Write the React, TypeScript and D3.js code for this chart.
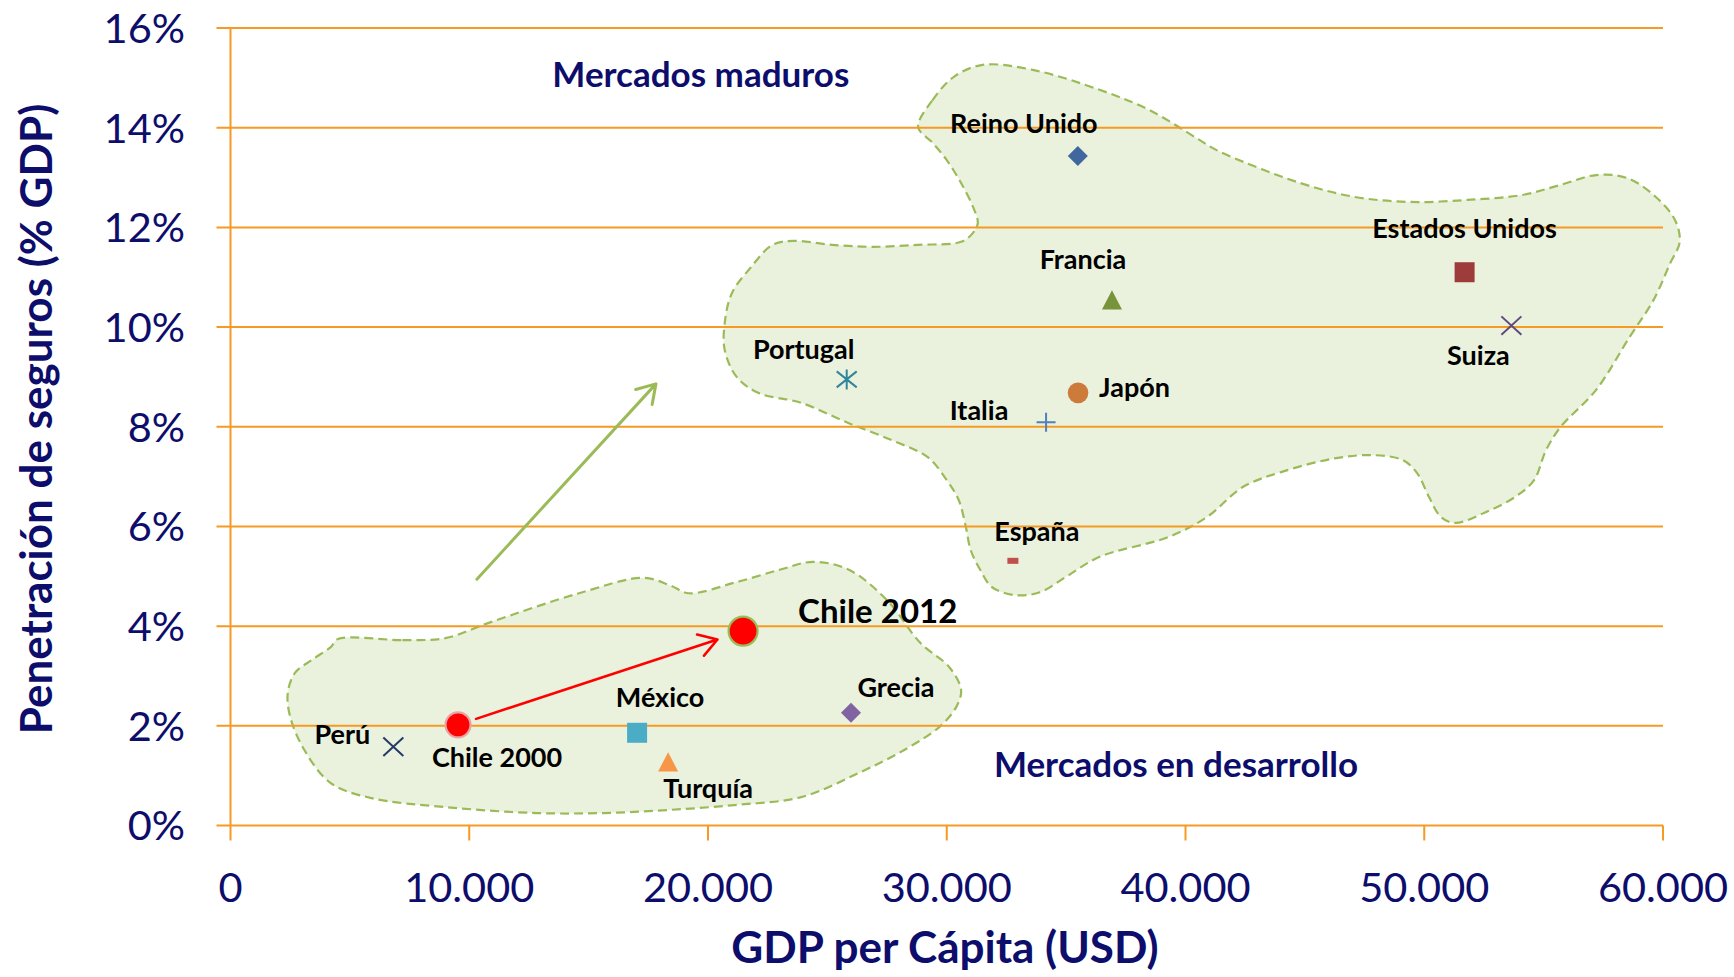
import React from 'react';
import * as d3 from 'd3';

// ---------- data ----------
const countries = ['Reino Unido', 'Estados Unidos', 'Francia', 'Suiza', 'Portugal', 'Japón', 'Italia', 'España', 'Chile 2012', 'Grecia', 'México', 'Chile 2000', 'Turquía', 'Perú'];
const gdpPerCapita = [35490, 51690, 36920, 53650, 25810, 35500, 34160, 32770, 21470, 25990, 17030, 9530, 18330, 6820];
const penetration = [13.43, 11.1, 10.54, 10.03, 8.95, 8.68, 8.09, 5.31, 3.9, 2.26, 1.86, 2.02, 1.27, 1.58];

const xTicks = [0, 10000, 20000, 30000, 40000, 50000, 60000];
const yTicks = [0, 2, 4, 6, 8, 10, 12, 14, 16];

const xTitle = 'GDP per Cápita (USD)';
const yTitle = 'Penetración de seguros (% GDP)';
const regionLabels = ['Mercados maduros', 'Mercados en desarrollo'];
const regionLabelGdp = [19700, 39600];
const regionLabelPct = [14.82, 0.98];

// outline of the "mature markets" cloud (GDP, %)
const matureGdp = [28800, 29400, 30300, 31500, 33600, 36400, 38500, 40600, 41300, 44800, 47100, 49400, 51800, 54100, 55700, 57200, 58500, 59700, 60500, 60700, 60300, 59600, 58600, 57200, 55700, 55100, 54600, 53800, 52500, 51300, 50700, 50200, 49700, 49100, 47900, 46300, 44000, 42400, 40900, 39300, 36400, 35000, 33900, 32900, 31900, 31400, 31000, 30800, 30500, 30000, 29200, 27700, 25900, 23900, 22100, 21200, 20700, 20700, 21000, 21800, 22700, 23600, 25200, 26900, 28800, 30600, 31100, 31300, 31100, 30600, 30000, 29400];
const maturePct = [14.01, 14.55, 15.02, 15.26, 15.16, 14.76, 14.35, 13.75, 13.55, 12.89, 12.61, 12.51, 12.55, 12.65, 12.85, 13.05, 12.99, 12.61, 12.15, 11.71, 11.28, 10.54, 9.8, 8.74, 7.99, 7.53, 6.93, 6.59, 6.27, 6.07, 6.19, 6.59, 7.07, 7.33, 7.43, 7.37, 7.09, 6.79, 6.19, 5.79, 5.39, 4.99, 4.68, 4.62, 4.78, 5.13, 5.53, 5.99, 6.53, 6.93, 7.39, 7.73, 8.07, 8.48, 8.68, 9.0, 9.54, 10.08, 10.68, 11.2, 11.65, 11.73, 11.65, 11.61, 11.65, 11.71, 11.89, 12.09, 12.41, 12.89, 13.35, 13.7];

// outline of the "developing markets" cloud (GDP, %)
const developingGdp = [4500, 7200, 9000, 10900, 14600, 17300, 18400, 19200, 21100, 23000, 24400, 25900, 27500, 28900, 30100, 30600, 30400, 29700, 28200, 26300, 23900, 21100, 18300, 15600, 12800, 9000, 5900, 4200, 3100, 2500, 2400, 2700, 3400, 4200];
const developingPct = [3.74, 3.72, 3.76, 4.08, 4.66, 4.97, 4.82, 4.66, 4.87, 5.13, 5.29, 5.13, 4.52, 3.66, 3.18, 2.72, 2.38, 1.98, 1.51, 1.05, 0.57, 0.41, 0.31, 0.25, 0.25, 0.37, 0.55, 0.85, 1.51, 2.18, 2.66, 3.06, 3.32, 3.58];

// green "trend" arrow (GDP, %)
const trendArrowGdp = [10320, 17820];
const trendArrowPct = [4.94, 8.86];

// ---------- styles ----------
type Style = { shape: string; color: string; size: number; stroke?: string; dx: number; dy: number; anchor: string; fs: number };
const LFS = 27;
const styles: Style[] = [
  { shape: 'diamond', color: '#41689E', size: 10, dx: -54, dy: -23, anchor: 'middle', fs: LFS },
  { shape: 'square', color: '#9D3C3B', size: 10, dx: 0, dy: -34, anchor: 'middle', fs: LFS },
  { shape: 'triangle', color: '#77933C', size: 10, dx: -29, dy: -31, anchor: 'middle', fs: LFS },
  { shape: 'x', color: '#604A7B', size: 10, dx: -33, dy: 39, anchor: 'middle', fs: LFS },
  { shape: 'asterisk', color: '#31859C', size: 10, dx: -43, dy: -20, anchor: 'middle', fs: LFS },
  { shape: 'circle', color: '#CC7B3A', size: 10.3, dx: 21, dy: 4, anchor: 'start', fs: LFS },
  { shape: 'plus', color: '#4F81BD', size: 9.5, dx: -67, dy: -2, anchor: 'middle', fs: LFS },
  { shape: 'dash', color: '#C0504D', size: 5.5, dx: 24, dy: -20, anchor: 'middle', fs: LFS },
  { shape: 'circle', color: '#FF0000', size: 14.5, stroke: '#9BBB59', dx: 55, dy: -8, anchor: 'start', fs: 33 },
  { shape: 'diamond', color: '#8064A2', size: 10, dx: 45, dy: -16, anchor: 'middle', fs: LFS },
  { shape: 'square', color: '#4BACC6', size: 10, dx: 23, dy: -26, anchor: 'middle', fs: LFS },
  { shape: 'circle', color: '#FF0000', size: 12.5, stroke: '#E9A3A3', dx: 39, dy: 42, anchor: 'middle', fs: LFS },
  { shape: 'triangle', color: '#F79646', size: 10, dx: 40, dy: 36, anchor: 'middle', fs: LFS },
  { shape: 'x', color: '#243A6B', size: 10, dx: -51, dy: -3, anchor: 'middle', fs: LFS },
];

const W = 1734;
const H = 977;
const NAVY = '#0D0D6B';
const GRID = '#F59A23';
const FONT = 'Lato, "Open Sans", sans-serif';

const x = d3.scaleLinear().domain([0, 60000]).range([230.5, 1663]);
const y = d3.scaleLinear().domain([0, 16]).range([825.5, 28]);

const fmtLocale = d3.formatLocale({ decimal: ',', thousands: '.', grouping: [3], currency: ['', ''] });
const fmtX = fmtLocale.format(',');

function Marker({ s, cx, cy }: { s: Style; cx: number; cy: number }) {
  const r = s.size;
  switch (s.shape) {
    case 'diamond':
      return <path d={`M${cx},${cy - r}L${cx + r},${cy}L${cx},${cy + r}L${cx - r},${cy}Z`} fill={s.color} />;
    case 'square':
      return <rect x={cx - r} y={cy - r} width={2 * r} height={2 * r} fill={s.color} />;
    case 'triangle':
      return <path d={`M${cx},${cy - r}L${cx + r},${cy + r * 0.93}L${cx - r},${cy + r * 0.93}Z`} fill={s.color} />;
    case 'circle':
      return <circle cx={cx} cy={cy} r={r} fill={s.color} stroke={s.stroke || 'none'} strokeWidth={s.stroke ? 2.2 : 0} />;
    case 'x':
      return <path d={`M${cx - r},${cy - r * 0.92}L${cx + r},${cy + r * 0.92}M${cx - r},${cy + r * 0.92}L${cx + r},${cy - r * 0.92}`} stroke={s.color} strokeWidth={2} fill="none" />;
    case 'asterisk':
      return <path d={`M${cx - r},${cy - r * 0.8}L${cx + r},${cy + r * 0.8}M${cx - r},${cy + r * 0.8}L${cx + r},${cy - r * 0.8}M${cx},${cy - r}L${cx},${cy + r}`} stroke={s.color} strokeWidth={2} fill="none" />;
    case 'plus':
      return <path d={`M${cx - r},${cy}L${cx + r},${cy}M${cx},${cy - r}L${cx},${cy + r}`} stroke={s.color} strokeWidth={2} fill="none" />;
    case 'dash':
      return <rect x={cx - r} y={cy - 3} width={2 * r} height={6} fill={s.color} />;
    default:
      return null;
  }
}

function arrowPath(x1: number, y1: number, x2: number, y2: number, gap1: number, gap2: number, head: number) {
  const a = Math.atan2(y2 - y1, x2 - x1);
  const sx = x1 + gap1 * Math.cos(a);
  const sy = y1 + gap1 * Math.sin(a);
  const tx = x2 - gap2 * Math.cos(a);
  const ty = y2 - gap2 * Math.sin(a);
  const da = (32 * Math.PI) / 180;
  const l1x = tx - head * Math.cos(a - da);
  const l1y = ty - head * Math.sin(a - da);
  const l2x = tx - head * Math.cos(a + da);
  const l2y = ty - head * Math.sin(a + da);
  return `M${sx},${sy}L${tx},${ty}M${l1x},${l1y}L${tx},${ty}L${l2x},${l2y}`;
}

export default function App() {
  const blob = d3
    .line<[number, number]>()
    .x((d) => x(d[0]))
    .y((d) => y(d[1]))
    .curve(d3.curveCatmullRomClosed.alpha(0.5));
  const mature = blob(matureGdp.map((g, i) => [g, maturePct[i]] as [number, number])) || '';
  const developing = blob(developingGdp.map((g, i) => [g, developingPct[i]] as [number, number])) || '';

  const i2000 = countries.indexOf('Chile 2000');
  const i2012 = countries.indexOf('Chile 2012');
  const redArrow = arrowPath(x(gdpPerCapita[i2000]), y(penetration[i2000]), x(gdpPerCapita[i2012]), y(penetration[i2012]), 19, 27, 21);
  const greenArrow = arrowPath(x(trendArrowGdp[0]), y(trendArrowPct[0]), x(trendArrowGdp[1]), y(trendArrowPct[1]), 0, 0, 21);

  return (
    <svg width={W} height={H} style={{ position: 'absolute', left: 0, top: 0, background: '#fff' }} fontFamily={FONT}>
      <rect x={0} y={0} width={W} height={H} fill="#fff" />
      {/* clouds */}
      <path d={mature} fill="#EAF1DD" stroke="#9BBB59" strokeWidth={2.2} strokeDasharray="9,5" />
      <path d={developing} fill="#EAF1DD" stroke="#9BBB59" strokeWidth={2.2} strokeDasharray="9,5" />

      {/* grid */}
      {yTicks.map((t) => (
        <line key={'g' + t} x1={x(0) - 14} x2={x(60000)} y1={y(t)} y2={y(t)} stroke={GRID} strokeWidth={2} />
      ))}
      <line x1={x(0)} x2={x(0)} y1={y(16)} y2={y(0) + 15} stroke={GRID} strokeWidth={2} />
      {xTicks.slice(1).map((t) => (
        <line key={'t' + t} x1={x(t)} x2={x(t)} y1={y(0)} y2={y(0) + 15} stroke={GRID} strokeWidth={2} />
      ))}

      {/* tick labels */}
      {yTicks.map((t) => (
        <text key={'yl' + t} x={185} y={y(t)} dy="0.36em" textAnchor="end" fontSize={41.5} fill={NAVY}>
          {t + '%'}
        </text>
      ))}
      {xTicks.map((t) => (
        <text key={'xl' + t} x={x(t)} y={902} textAnchor="middle" fontSize={41.5} fill={NAVY}>
          {fmtX(t)}
        </text>
      ))}

      {/* axis titles */}
      <text x={945} y={963} textAnchor="middle" fontSize={44} fontWeight={700} fill={NAVY}>
        {xTitle}
      </text>
      <text transform={`translate(52,419) rotate(-90)`} textAnchor="middle" fontSize={44} fontWeight={700} fill={NAVY}>
        {yTitle}
      </text>

      {/* region labels */}
      {regionLabels.map((l, i) => (
        <text key={l} x={x(regionLabelGdp[i])} y={y(regionLabelPct[i])} textAnchor="middle" fontSize={35} fontWeight={700} fill={NAVY}>
          {l}
        </text>
      ))}

      {/* arrows */}
      <path d={greenArrow} stroke="#9BBB59" strokeWidth={3} fill="none" strokeLinecap="round" strokeLinejoin="round" />
      <path d={redArrow} stroke="#FF0000" strokeWidth={2.6} fill="none" strokeLinecap="round" strokeLinejoin="round" />

      {/* markers */}
      {countries.map((c, i) => (
        <Marker key={'m' + c} s={styles[i]} cx={x(gdpPerCapita[i])} cy={y(penetration[i])} />
      ))}

      {/* labels */}
      {countries.map((c, i) => (
        <text
          key={'l' + c}
          x={x(gdpPerCapita[i]) + styles[i].dx}
          y={y(penetration[i]) + styles[i].dy}
          textAnchor={styles[i].anchor}
          fontSize={styles[i].fs}
          fontWeight={700}
          fill="#000"
        >
          {c}
        </text>
      ))}
    </svg>
  );
}
